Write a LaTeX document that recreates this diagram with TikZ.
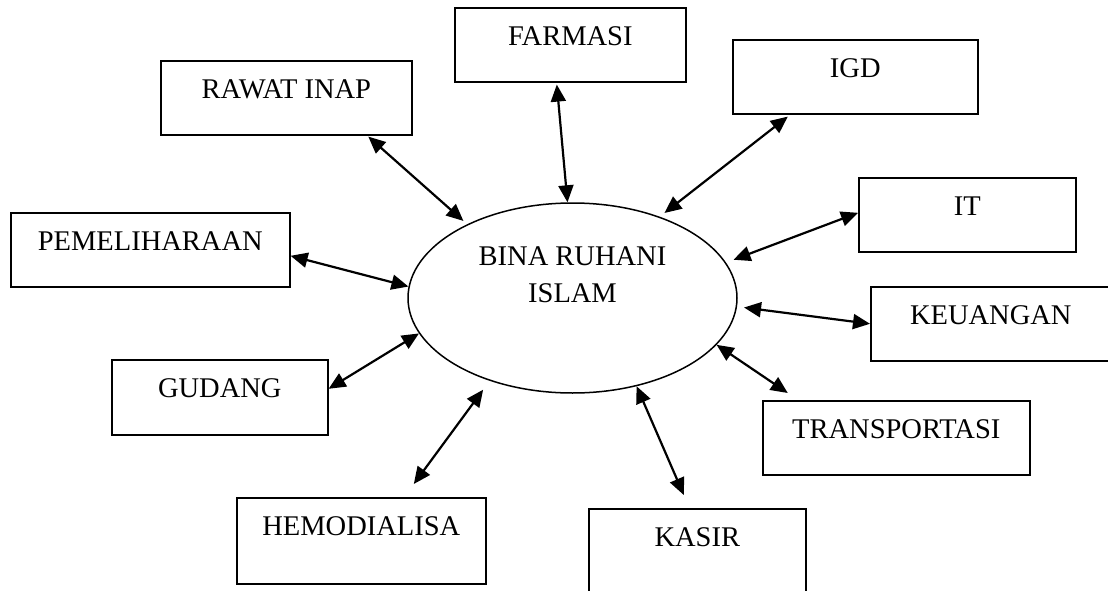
\documentclass[tikz,border=0pt]{standalone}
\usepackage{fontspec}
\setmainfont{Liberation Serif}
\usetikzlibrary{arrows.meta,shapes.geometric}
\tikzset{
  bagian/.style={draw, line width=1.6pt, anchor=north west, inner sep=0pt,
    text height=37.5pt, text depth=36.5pt},
  hubung/.style={line width=2.2pt,
    {Triangle[length=17pt,width=15pt]}-{Triangle[length=17pt,width=15pt]}}
}
\begin{document}
\begin{tikzpicture}[x=1pt,y=-1pt]
                    \clip (0,0) rectangle (1108,591);
                    {\fontsize{28.5}{37}\selectfont
                    
                    % Marking centre BINA RUHANI ISLAM by ellipse
                    \node [draw, ellipse, line width=1.5pt, minimum width=329pt, minimum height=190pt, inner sep=0pt, text height=20pt, text depth=50pt] (bina) at (572.5,298) {\begin{tabular}{@{}c@{}}BINA RUHANI\\ISLAM\end{tabular}};%
                    
                    % Drawing box FARMASI
                    \node [bagian, minimum width=231pt] (farmasi) at (454,7) {FARMASI};%
                    
                    % Drawing box RAWAT INAP
                    \node [bagian, minimum width=251pt] (rawat) at (160,60) {RAWAT INAP};%
                    
                    % Drawing box IGD
                    \node [bagian, minimum width=245pt] (igd) at (732,39) {IGD};%
                    
                    % Drawing box IT
                    \node [bagian, minimum width=217pt] (it) at (858,177) {IT};%
                    
                    % Drawing box PEMELIHARAAN
                    \node [bagian, minimum width=279pt] (pemeliharaan) at (10,212) {PEMELIHARAAN};%
                    
                    % Drawing box KEUANGAN
                    \node [bagian, minimum width=240pt] (keuangan) at (870,286) {KEUANGAN};%
                    
                    % Drawing box GUDANG
                    \node [bagian, minimum width=216pt, text depth=37.5pt] (gudang) at (111,359) {GUDANG};%
                    
                    % Drawing box TRANSPORTASI
                    \node [bagian, minimum width=267pt] (transportasi) at (762,400) {TRANSPORTASI};%
                    
                    % Drawing box HEMODIALISA
                    \node [bagian, minimum width=249pt, text depth=48.5pt] (hemodialisa) at (236,497) {HEMODIALISA};%
                    
                    % Drawing box KASIR
                    \node [bagian, minimum width=217pt, text depth=62.5pt] (kasir) at (588,508) {KASIR};%
                    
                    % Drawing arrows to BINA RUHANI ISLAM
                    \draw [hubung, shorten >=5pt] ([xshift=82pt,yshift=-1pt]rawat.south) -- (bina.145.6);%
                    \draw [hubung] ([yshift=-6pt]pemeliharaan.east) -- (bina.176.5);%
                    \draw [hubung] ([xshift=-13.5pt,yshift=-2pt]farmasi.south) -- (bina.93.6);%
                    \draw [hubung, shorten >=6pt] ([xshift=-67.5pt,yshift=-2pt]igd.south) -- (bina.43.4);%
                    \draw [hubung, shorten >=8pt] ([yshift=2pt]it.west) -- (bina.13.2);%
                    \draw [hubung, shorten >=7pt] (keuangan.west) -- (bina.-3);%
                    \draw [hubung] ([xshift=-108.5pt,yshift=7pt]transportasi.north) -- (bina.-18.6);%
                    \draw [hubung] ([xshift=-13.5pt,yshift=13pt]kasir.north) -- (bina.-54.5);%
                    \draw [hubung] ([yshift=8.5pt]gudang.east) -- (bina.193.2);%
                    \draw [hubung, shorten >=11pt] ([xshift=52.5pt,yshift=13pt]hemodialisa.north) -- (bina.225.9);%
                    }
\end{tikzpicture}
\end{document}
